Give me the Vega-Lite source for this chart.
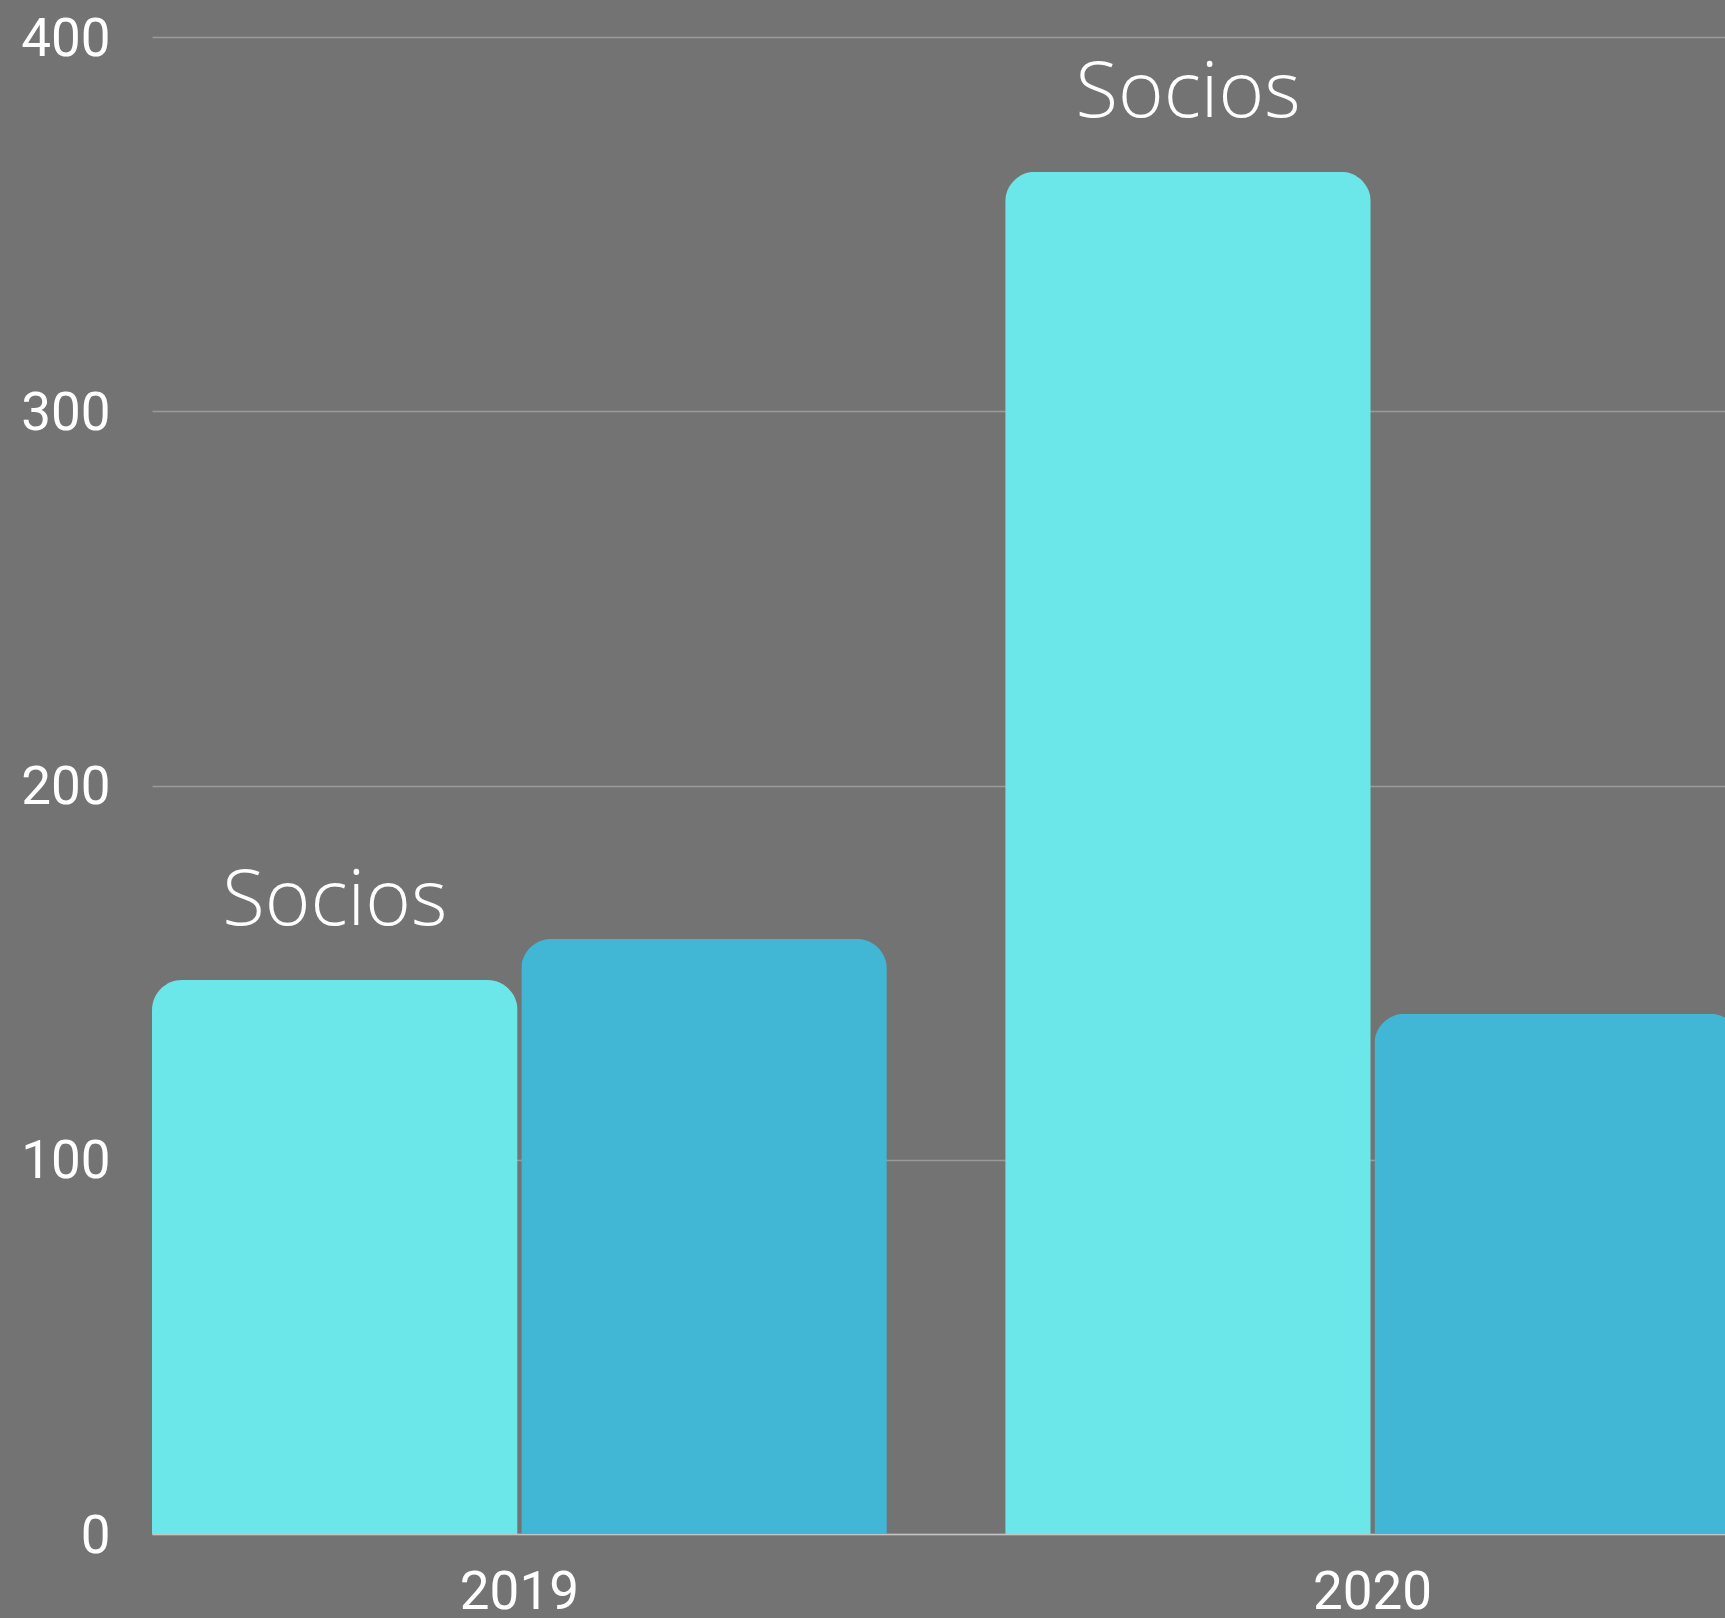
{
  "$schema": "https://vega.github.io/schema/vega-lite/v6.json",
  "width": 1573,
  "height": 1497,
  "autosize": {"type": "none"},
  "padding": {"left": 152, "top": 37, "right": 0, "bottom": 84},
  "background": "#737373",
  "config": {
    "view": {"stroke": null},
    "axis": {"labelFont": "Roboto", "labelColor": "#ffffff", "labelFontSize": 53, "title": null, "ticks": false, "tickSize": 0}
  },
  "data": {
    "values": [
      {"year": "2019", "series": "A", "value": 148, "label": "Socios"},
      {"year": "2019", "series": "B", "value": 159, "label": ""},
      {"year": "2020", "series": "A", "value": 364, "label": "Socios"},
      {"year": "2020", "series": "B", "value": 139, "label": ""}
    ]
  },
  "encoding": {
    "x": {
      "field": "year",
      "type": "nominal",
      "scale": {"range": [0, 1588], "paddingInner": 0.1387, "paddingOuter": 0},
      "axis": {"labelAngle": 0, "labelPadding": 32, "domain": true, "domainColor": "#c4c4c4", "domainWidth": 1.5, "grid": false, "labelBaseline": "top"}
    },
    "xOffset": {"field": "series", "type": "nominal", "scale": {"paddingInner": 0.01, "paddingOuter": 0}},
    "y": {
      "field": "value",
      "type": "quantitative",
      "scale": {"domain": [0, 400], "nice": false},
      "axis": {"values": [0, 100, 200, 300, 400], "grid": true, "gridColor": "#9a9a9a", "gridWidth": 1.5, "domain": false, "labelPadding": 42, "labelOffset": 2, "labelBaseline": "middle"}
    }
  },
  "layer": [
    {
      "mark": {"type": "bar", "cornerRadiusTopLeft": 30, "cornerRadiusTopRight": 30},
      "encoding": {
        "color": {"field": "series", "type": "nominal", "scale": {"range": ["#6be6e9", "#41b6d5"]}, "legend": null}
      }
    },
    {
      "mark": {"type": "text", "dy": -55, "fontSize": 78, "font": "Open Sans", "fontWeight": 300, "color": "#ffffff", "baseline": "alphabetic", "align": "center"},
      "encoding": {"text": {"field": "label"}}
    }
  ]
}
